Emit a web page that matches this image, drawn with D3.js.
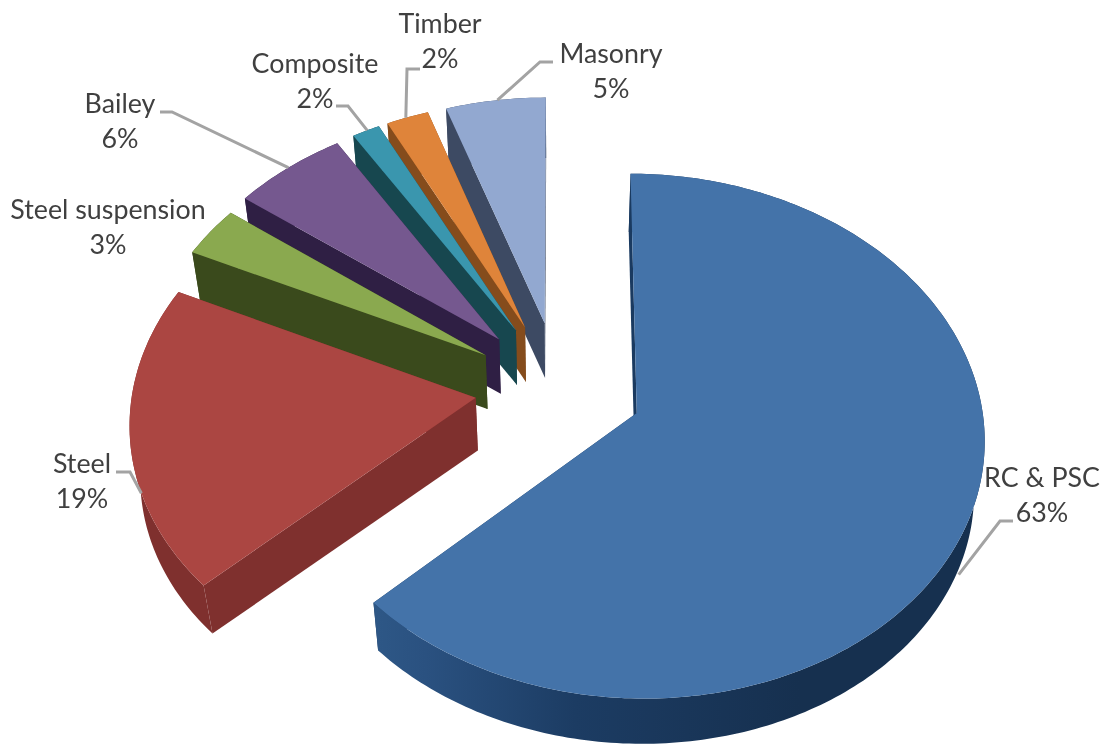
<!DOCTYPE html>
<html><head><meta charset="utf-8">
<script src="https://cdnjs.cloudflare.com/ajax/libs/d3/7.8.5/d3.min.js"></script>
<style>
html,body{margin:0;padding:0;background:#fff}
svg{display:block;filter:blur(0.6px)}
text{font-family:Lato,"Open Sans",sans-serif;font-size:26.8px;fill:#404040;text-anchor:middle}
</style></head><body><svg id="c" width="1101" height="744"></svg>
<script>
const categories=["RC & PSC","Steel","Steel suspension","Bailey","Composite","Timber","Masonry"];
const shares=[63,19,3.2,5.95,1.45,2.2,5.2];
const percentLabels=["63%","19%","3%","6%","2%","2%","5%"];
const topColors=["#4473a9","#ab4642","#8aa94f","#75588f","#3a96ae","#df843a","#92a8d0"];
const wallColors=["#1a3a60","#7f302e","#3a4a1c","#2f1f44","#17474f","#854c1c","#3d4a63"];
const labelX=[1042,82,108,120,315,440,611];
const labelY=[487,473,219,113,73,33,63];
const elbowFrom=[[1013,521],[116,472],[160,112],[336,106],[420,69],[553,62]];
const elbowAt=[[1000,521],[130,472],[172,112],[348,106],[407,69],[540,62]];
const leaderIdx=[0,1,3,4,5,6];
const leaderDrop=[34,0,0,0,0,0];
const leaderAngle=[118,249,317.5,331,337,351];
const explodes=[0.245,0.245,0.252,0.262,0.262,0.262,0.262];

const cx=559,cy=388,rx=343,ry=256,persp=0.087,depth=53,shrink=0.975;
const xS=d3.scaleLinear().domain([-1,1]).range([cx-rx,cx+rx]);
const yS=d3.scaleLinear().domain([-1,1]).range([cy-ry,cy+ry]);
const slices=d3.pie().sort(null).value(d=>d)(shares);
const svg=d3.select("#c");
const line=d3.line();

function proj(theta,r,bis,explode,bottom){
  const X=r*Math.sin(theta)+explode*Math.sin(bis);
  const Y=-r*Math.cos(theta)-explode*Math.cos(bis);
  const s=1/(1-Y*persp);
  let px=xS(X*s),py=yS(Y*s);
  if(bottom){px=cx+(px-cx)*shrink;py=cy+(py-cy)*shrink+depth;}
  return [px,py];
}
const defs=svg.append("defs");
const grad=defs.append("linearGradient").attr("id","blueWall").attr("gradientUnits","userSpaceOnUse")
 .attr("x1",xS(-0.75)).attr("x2",xS(0.7)).attr("y1",0).attr("y2",0);
[[0,"#33608f"],[0.25,"#2a5180"],[0.55,"#1c3c63"],[1,"#16304f"]].forEach(d=>grad.append("stop").attr("offset",d[0]).attr("stop-color",d[1]));

const order=d3.range(slices.length).reverse();
order.forEach(i=>{
  const d=slices[i],a0=d.startAngle,a1=d.endAngle,bis=(a0+a1)/2,e=explodes[i];
  const n=Math.max(8,Math.round((a1-a0)*60));
  const arc=d3.range(n+1).map(k=>a0+(a1-a0)*k/n);
  const g=svg.append("g");
  const wall=(ang)=>[proj(ang,0,bis,e,false),proj(ang,1,bis,e,false),proj(ang,1,bis,e,true),proj(ang,0,bis,e,true)];
  g.append("path").attr("d",line(wall(a1))+"Z").attr("fill",wallColors[i]);
  g.append("path").attr("d",line(arc.map(t=>proj(t,1,bis,e,false)).concat(arc.slice().reverse().map(t=>proj(t,1,bis,e,true))))+"Z")
    .attr("fill",i===0?"url(#blueWall)":wallColors[i]);
  g.append("path").attr("d",line(wall(a0))+"Z").attr("fill",wallColors[i]);
  g.append("path").attr("d",line([proj(0,0,bis,e,false)].concat(arc.map(t=>proj(t,1,bis,e,false))))+"Z").attr("fill",topColors[i]);
});
leaderIdx.forEach((i,j)=>{
  const d=slices[i],bis=(d.startAngle+d.endAngle)/2;
  const end=proj(leaderAngle[j]*Math.PI/180,1,bis,explodes[i],false);
  end[1]+=leaderDrop[j];
  svg.append("path").attr("d",line([elbowFrom[j],elbowAt[j],end])).attr("fill","none")
    .attr("stroke","#a3a3a3").attr("stroke-width",3);
});
categories.forEach((c,i)=>{
  svg.append("text").attr("x",labelX[i]).attr("y",labelY[i]).text(c);
  svg.append("text").attr("x",labelX[i]).attr("y",labelY[i]+35).text(percentLabels[i]);
});
</script></body></html>
